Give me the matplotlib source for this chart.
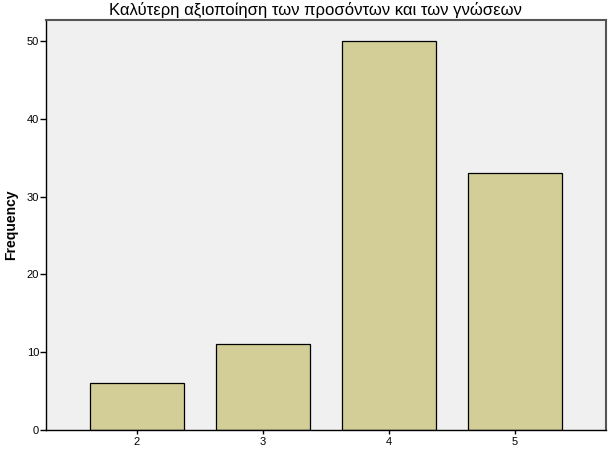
import matplotlib.pyplot as plt

categories = ['2', '3', '4', '5']
positions = [2, 3, 4, 5]
frequency = [6, 11, 50, 33]
yticks = [0, 10, 20, 30, 40, 50]

plt.rcParams['font.family'] = ['Liberation Sans', 'DejaVu Sans']

fig = plt.figure(figsize=(6.14, 4.5), dpi=100)
ax = fig.add_axes([46 / 614, 20 / 450, 560 / 614, 410 / 450])
ax.set_facecolor('#F0F0F0')

ax.bar(positions, frequency, width=0.746, color='#D3CE97', edgecolor='black', linewidth=0.9, zorder=2)

ax.set_xlim(1.278, 5.722)
ax.set_ylim(0, 52.7)
ax.set_xticks(positions)
ax.set_xticklabels(categories)
ax.set_yticks(yticks)
ax.tick_params(axis='y', direction='out', length=4, width=1, labelsize=8, pad=1)
ax.tick_params(axis='x', direction='inout', length=6, width=1, labelsize=8, pad=2)

for side in ['top', 'right']:
    ax.spines[side].set_color('#555555')
    ax.spines[side].set_linewidth(1.5)
for side in ['left', 'bottom']:
    ax.spines[side].set_color('black')
    ax.spines[side].set_linewidth(1)

ax.set_ylabel('Frequency', fontsize=10, fontweight='bold', labelpad=6)
fig.text(0.513, 0.977, 'Καλύτερη αξιοποίηση των προσόντων και των γνώσεων',
         ha='center', va='center', fontsize=12)

fig.savefig('out.png', dpi=100)
